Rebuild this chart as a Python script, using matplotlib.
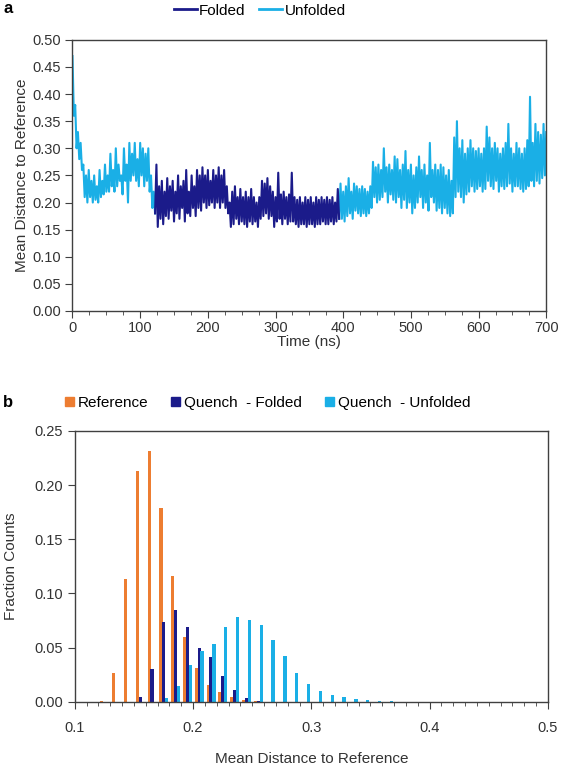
import matplotlib

matplotlib.use("Agg")

import matplotlib.pyplot as plt
import numpy as np
from matplotlib.lines import Line2D
from matplotlib.patches import Patch
from matplotlib.ticker import MultipleLocator

plt.rcParams["font.family"] = ["Liberation Sans", "DejaVu Sans"]

FOLDED = "#1b1b8a"
UNFOLDED = "#1aafe6"
ORANGE = "#ed7d31"
TEXT = "#333333"

# --- panel a: trace sampled every 2 ns ---
STEP_NS = 2
unfolded_start_1 = 0
unfolded_vals_1 = [
    0.47, 0.36, 0.38, 0.30, 0.33, 0.28, 0.31, 0.26, 0.27, 0.21, 0.25, 0.20, 0.26, 0.21,
    0.24, 0.20, 0.25, 0.205, 0.23, 0.20, 0.26, 0.21, 0.24, 0.215, 0.27, 0.22, 0.25, 0.22,
    0.29, 0.23, 0.26, 0.22, 0.30, 0.23, 0.27, 0.24, 0.25, 0.215, 0.30, 0.24, 0.27, 0.20,
    0.31, 0.24, 0.29, 0.25, 0.31, 0.24, 0.28, 0.23, 0.31, 0.25, 0.30, 0.23, 0.29, 0.24,
    0.30, 0.22, 0.25, 0.19, 0.22, 0.18,
]
folded_start = 122
folded_vals = [
    0.18, 0.27, 0.155, 0.23, 0.17, 0.24, 0.16, 0.22, 0.175, 0.245, 0.17, 0.23, 0.185, 0.24,
    0.165, 0.22, 0.18, 0.25, 0.17, 0.23, 0.19, 0.24, 0.165, 0.26, 0.18, 0.22, 0.175, 0.25,
    0.19, 0.23, 0.175, 0.26, 0.19, 0.25, 0.185, 0.265, 0.20, 0.25, 0.19, 0.26, 0.195, 0.24,
    0.20, 0.26, 0.19, 0.25, 0.20, 0.265, 0.19, 0.25, 0.20, 0.26, 0.19, 0.23, 0.18, 0.20,
    0.155, 0.22, 0.16, 0.23, 0.17, 0.21, 0.16, 0.225, 0.165, 0.21, 0.16, 0.22, 0.155, 0.21,
    0.165, 0.225, 0.16, 0.21, 0.165, 0.20, 0.155, 0.21, 0.17, 0.24, 0.175, 0.235, 0.18, 0.245,
    0.17, 0.23, 0.175, 0.22, 0.155, 0.21, 0.165, 0.255, 0.17, 0.215, 0.16, 0.22, 0.17, 0.21,
    0.16, 0.215, 0.165, 0.255, 0.165, 0.21, 0.16, 0.205, 0.155, 0.21, 0.16, 0.20, 0.16, 0.21,
    0.155, 0.205, 0.16, 0.21, 0.16, 0.20, 0.155, 0.21, 0.16, 0.205, 0.16, 0.21, 0.165, 0.205,
    0.16, 0.21, 0.16, 0.205, 0.165, 0.21, 0.16, 0.20, 0.165, 0.225, 0.17,
]
unfolded_start_2 = 394
unfolded_vals_2 = [
    0.17, 0.235, 0.17, 0.22, 0.165, 0.23, 0.175, 0.245, 0.18, 0.22, 0.17, 0.235, 0.185, 0.23,
    0.18, 0.225, 0.175, 0.23, 0.18, 0.225, 0.175, 0.22, 0.18, 0.23, 0.19, 0.275, 0.21, 0.265,
    0.20, 0.27, 0.205, 0.26, 0.21, 0.30, 0.22, 0.265, 0.20, 0.27, 0.215, 0.26, 0.205, 0.285,
    0.20, 0.28, 0.21, 0.26, 0.19, 0.27, 0.205, 0.295, 0.19, 0.26, 0.20, 0.27, 0.18, 0.25,
    0.19, 0.265, 0.20, 0.285, 0.21, 0.26, 0.19, 0.27, 0.20, 0.25, 0.185, 0.31, 0.21, 0.26,
    0.20, 0.27, 0.185, 0.26, 0.19, 0.27, 0.18, 0.265, 0.19, 0.25, 0.18, 0.26, 0.175, 0.24,
    0.18, 0.32, 0.21, 0.35, 0.22, 0.30, 0.21, 0.315, 0.20, 0.29, 0.215, 0.30, 0.22, 0.315,
    0.23, 0.30, 0.22, 0.295, 0.225, 0.30, 0.23, 0.29, 0.22, 0.30, 0.225, 0.34, 0.24, 0.32,
    0.23, 0.30, 0.225, 0.31, 0.24, 0.30, 0.22, 0.29, 0.23, 0.30, 0.225, 0.31, 0.23, 0.345,
    0.235, 0.30, 0.22, 0.29, 0.23, 0.31, 0.23, 0.30, 0.225, 0.29, 0.22, 0.30, 0.225, 0.315,
    0.23, 0.395, 0.24, 0.31, 0.23, 0.345, 0.24, 0.33, 0.235, 0.325, 0.245, 0.345, 0.25, 0.33,
]

# --- panel b: histogram, bins of 0.01 starting at 0.10 ---
bin_left = [round(0.10 + 0.01 * i, 2) for i in range(40)]
reference_frac = [
    0, 0, 0.001, 0.027, 0.113, 0.213, 0.231, 0.179, 0.116, 0.060,
    0.031, 0.016, 0.009, 0.005, 0.002, 0.001, 0, 0, 0, 0,
] + [0] * 20
folded_frac = [
    0, 0, 0, 0, 0, 0.005, 0.030, 0.074, 0.085, 0.069,
    0.050, 0.041, 0.024, 0.011, 0.004, 0.001, 0, 0, 0, 0,
] + [0] * 20
unfolded_frac = [
    0, 0, 0, 0, 0, 0, 0, 0.004, 0.0145, 0.034,
    0.047, 0.053, 0.069, 0.078, 0.076, 0.071, 0.057, 0.042, 0.027, 0.017,
    0.010, 0.006, 0.0045, 0.003, 0.002, 0.001, 0.0005, 0, 0, 0,
] + [0] * 10


def series_times(start, vals):
    return start + STEP_NS * np.arange(len(vals))


def style_box(ax, xpad):
    for side in ("left", "right", "top", "bottom"):
        ax.spines[side].set_color("#404040")
        ax.spines[side].set_linewidth(1.0)
    ax.tick_params(which="both", direction="out", labelsize=10.5, colors="#404040",
                   labelcolor=TEXT, top=False, right=False)
    ax.tick_params(which="major", length=5)
    ax.tick_params(which="minor", length=3)
    ax.tick_params(axis="x", which="major", pad=xpad)


fig = plt.figure(figsize=(5.62, 7.66), dpi=100)

# panel a
ax1 = fig.add_axes([0.129, 0.594, 0.843, 0.354])
ax1.plot(series_times(unfolded_start_1, unfolded_vals_1), unfolded_vals_1,
         color=UNFOLDED, linewidth=1.5)
ax1.plot(series_times(unfolded_start_2, unfolded_vals_2), unfolded_vals_2,
         color=UNFOLDED, linewidth=1.5)
ax1.plot(series_times(folded_start, folded_vals), folded_vals,
         color=FOLDED, linewidth=1.5)
ax1.set_xlim(0, 700)
ax1.set_ylim(0, 0.5)
ax1.xaxis.set_major_locator(MultipleLocator(100))
ax1.xaxis.set_minor_locator(MultipleLocator(25))
ax1.yaxis.set_major_locator(MultipleLocator(0.05))
ax1.yaxis.set_major_formatter(lambda v, _: f"{v:.2f}")
ax1.set_xlabel("Time (ns)", fontsize=11, color=TEXT, labelpad=0)
ax1.set_ylabel("Mean Distance to Reference", fontsize=11, color=TEXT, labelpad=2)
style_box(ax1, 2)
ax1.legend(handles=[Line2D([], [], color=FOLDED, lw=2, label="Folded"),
                    Line2D([], [], color=UNFOLDED, lw=2, label="Unfolded")],
           loc="center", bbox_to_anchor=(0.462, 0.986), bbox_transform=fig.transFigure,
           ncol=2, frameon=False, fontsize=11, handlelength=1.5, handletextpad=0.15,
           columnspacing=0.9)
fig.text(0.006, 0.989, "a", fontsize=12, fontweight="bold", va="center")

# panel b
ax2 = fig.add_axes([0.133, 0.0836, 0.842, 0.354])
left = np.array(bin_left)
bar_w = 0.0028
ax2.bar(left + 0.0029, reference_frac, width=bar_w, color=ORANGE, linewidth=0)
ax2.bar(left + 0.0053, folded_frac, width=bar_w, color=FOLDED, linewidth=0)
ax2.bar(left + 0.0077, unfolded_frac, width=bar_w, color=UNFOLDED, linewidth=0)
ax2.set_xlim(0.1, 0.5)
ax2.set_ylim(0, 0.25)
ax2.xaxis.set_major_locator(MultipleLocator(0.1))
ax2.xaxis.set_minor_locator(MultipleLocator(0.01))
ax2.xaxis.set_major_formatter(lambda v, _: f"{v:.1f}")
ax2.yaxis.set_major_locator(MultipleLocator(0.05))
ax2.yaxis.set_major_formatter(lambda v, _: f"{v:.2f}")
ax2.set_xlabel("Mean Distance to Reference", fontsize=11, color=TEXT, labelpad=12)
ax2.set_ylabel("Fraction Counts", fontsize=11, color=TEXT, labelpad=12)
style_box(ax2, 9)
ax2.legend(handles=[Patch(color=ORANGE, label="Reference"),
                    Patch(color=FOLDED, label="Quench  - Folded"),
                    Patch(color=UNFOLDED, label="Quench  - Unfolded")],
           loc="center", bbox_to_anchor=(0.476, 0.474), bbox_transform=fig.transFigure,
           ncol=3, frameon=False, fontsize=11, handlelength=0.6, handleheight=0.45,
           handletextpad=0.25, columnspacing=1.5)
fig.text(0.006, 0.475, "b", fontsize=12, fontweight="bold", va="center")

fig.savefig("out.png", dpi=100)
